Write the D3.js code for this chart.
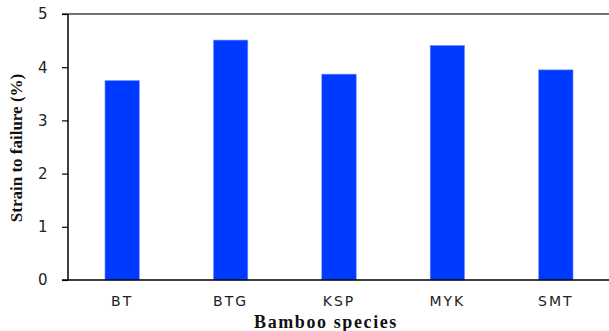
<!DOCTYPE html>
<html><head><meta charset="utf-8">
<script src="https://cdn.jsdelivr.net/npm/d3@7"></script>
<style>body{margin:0;background:#fff}svg{display:block}</style>
</head><body><svg id="c" width="609" height="331"></svg>
<script>
const categories = ["BT","BTG","KSP","MYK","SMT"];
const values = [3.75, 4.51, 3.87, 4.41, 3.95];
const yTicks = [0,1,2,3,4,5];
const yLabel = "Strain to failure (%)";
const xLabel = "Bamboo species";

const svg = d3.select("#c");
const mLeft = 68, mRight = 610, mTop = 14, mBottom = 280;
const x = d3.scaleBand().domain(categories).range([mLeft, mRight]).paddingInner(0.682).paddingOuter(0.341);
const y = d3.scaleLinear().domain([0,5]).range([mBottom, mTop]);

svg.selectAll("rect.bar").data(values).join("rect")
  .attr("class","bar")
  .attr("x",(d,i)=>x(categories[i]))
  .attr("width",x.bandwidth())
  .attr("y",d=>y(d))
  .attr("height",d=>mBottom-y(d))
  .attr("fill","#0039ff")
  .attr("stroke","#7f9cff").attr("stroke-width",0.6);

// top border line
svg.append("line").attr("x1",62).attr("x2",609).attr("y1",y(5)).attr("y2",y(5))
  .attr("stroke","#444").attr("stroke-width",1.5);

const yAxis = svg.append("g").attr("transform",`translate(${mLeft},0)`)
  .call(d3.axisLeft(y).tickValues(yTicks).tickSize(6).tickPadding(14).tickFormat(d3.format("d")));
yAxis.select(".domain").attr("stroke","#000").attr("stroke-width",1.5).attr("d",`M0,${mTop}V${mBottom}`);
yAxis.selectAll(".tick line").attr("stroke","#000").attr("stroke-width",1.2);
yAxis.selectAll("text").attr("font-family","DejaVu Sans, Verdana, sans-serif").attr("font-size",15)
  .attr("letter-spacing","0.5px").attr("fill","#222");

const xAxis = svg.append("g").attr("transform",`translate(0,${mBottom})`)
  .call(d3.axisBottom(x).tickSize(0).tickPadding(16));
xAxis.select(".domain").attr("stroke","#000").attr("stroke-width",1.5).attr("d",`M62,0H609`);
xAxis.selectAll("text").attr("font-family","DejaVu Sans, Verdana, sans-serif").attr("font-size",14)
  .attr("letter-spacing","2px").attr("fill","#222");

svg.append("text").attr("transform",`translate(22,148) rotate(-90)`)
  .attr("text-anchor","middle").attr("font-family","Liberation Serif, Times New Roman, serif")
  .attr("font-weight","bold").attr("font-size",17).attr("fill","#111").text(yLabel);

svg.append("text").attr("x",326).attr("y",328)
  .attr("text-anchor","middle").attr("font-family","Liberation Serif, Times New Roman, serif")
  .attr("font-weight","bold").attr("font-size",18).attr("letter-spacing","1.6px").attr("fill","#111").text(xLabel);
</script></body></html>
